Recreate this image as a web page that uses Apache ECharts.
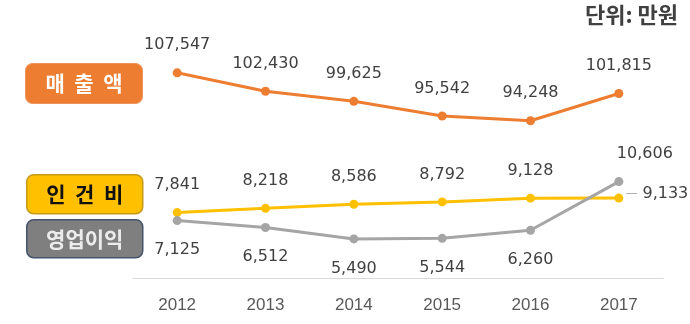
<!DOCTYPE html>
<html><head><meta charset="utf-8">
<script src="https://cdn.jsdelivr.net/npm/echarts@6/dist/echarts.min.js"></script>
<style>html,body{margin:0;padding:0;background:#fff}#c{width:690px;height:324px}</style>
</head><body><div id="c"></div>
<script>
const years = ['2012','2013','2014','2015','2016','2017'];
const sales = [107547, 102430, 99625, 95542, 94248, 101815];
const labor = [7841, 8218, 8586, 8792, 9128, 9133];
const profit = [7125, 6512, 5490, 5544, 6260, 10606];
const seriesNames = ['매출액', '인건비', '영업이익'];
const unitText = '단위: 만원';

const fmt = v => v.toLocaleString('en-US');
const numFont = 'DejaVu Sans';
const labelColor = '#404040';
const last = years.length - 1;
const spaced = s => s.split('').join('  ');

const chart = echarts.init(document.getElementById('c'));
chart.setOption({
  animation: false,
  grid: [
    {left: 133, right: 27, top: 64, height: 72},
    {left: 133, right: 27, top: 166, height: 112}
  ],
  xAxis: [
    {gridIndex: 0, type: 'category', data: years, show: false},
    {gridIndex: 1, type: 'category', data: years,
     axisLine: {lineStyle: {color: '#d9d9d9', width: 1}},
     axisTick: {show: false},
     axisLabel: {fontFamily: 'Liberation Sans', fontSize: 17, color: '#595959', margin: 19}}
  ],
  yAxis: [
    {gridIndex: 0, type: 'value', min: 90000, max: 110000, show: false},
    {gridIndex: 1, type: 'value', min: 2000, max: 12000, show: false}
  ],
  series: [
    {name: seriesNames[0], type: 'line', xAxisIndex: 0, yAxisIndex: 0, data: sales,
     symbol: 'circle', symbolSize: 9, lineStyle: {width: 3, color: '#ED7D31'},
     itemStyle: {color: '#ED7D31'},
     label: {show: true, position: 'top', distance: 15, fontFamily: numFont, fontSize: 16,
             color: labelColor, formatter: p => fmt(p.value)}},
    {name: seriesNames[1], type: 'line', xAxisIndex: 1, yAxisIndex: 1, data: labor,
     symbol: 'circle', symbolSize: 9, lineStyle: {width: 3, color: '#FFC000'},
     itemStyle: {color: '#FFC000'},
     label: {show: true, position: 'top', distance: 15, fontFamily: numFont, fontSize: 16,
             color: labelColor,
             formatter: p => p.dataIndex === last ? '{d|—} ' + fmt(p.value) : fmt(p.value),
             rich: {d: {color: '#a6a6a6', fontSize: 12, fontFamily: numFont}}},
     labelLayout: p => p.dataIndex === last ? {dx: 38, dy: 23} : {}},
    {name: seriesNames[2], type: 'line', xAxisIndex: 1, yAxisIndex: 1,
     data: profit.map((v, i) => i === last ? {value: v, label: {position: 'top', distance: 15, offset: [26, 0]}} : v),
     symbol: 'circle', symbolSize: 9, lineStyle: {width: 3, color: '#A5A5A5'},
     itemStyle: {color: '#A5A5A5'}, z: 3,
     label: {show: true, fontFamily: numFont, fontSize: 16, color: labelColor,
             formatter: p => fmt(p.value),
             position: 'bottom', distance: 17}},
  ],
  graphic: [
    {type: 'text', right: 12, top: 4, style: {text: unitText, fontFamily: 'Noto Sans CJK KR',
      fontSize: 22, fontWeight: 'bold', fill: '#404040'}},
    {type: 'group', left: 25, top: 63, children: [
      {type: 'rect', shape: {x: 0, y: 0, width: 117, height: 40, r: 7},
       style: {fill: '#ED7D31', stroke: '#F0935A', lineWidth: 1}},
      {type: 'text', x: 58.5, y: 20, style: {text: spaced(seriesNames[0]), fontFamily: 'Noto Sans CJK KR',
       fontSize: 21, fontWeight: 'bold', fill: '#fff', align: 'center', verticalAlign: 'middle'}}
    ]},
    {type: 'group', left: 26, top: 174, children: [
      {type: 'rect', shape: {x: 0, y: 0, width: 116, height: 39, r: 7},
       style: {fill: '#FFC000', stroke: '#C49A1A', lineWidth: 1.5}},
      {type: 'text', x: 58, y: 19.5, style: {text: spaced(seriesNames[1]), fontFamily: 'Noto Sans CJK KR',
       fontSize: 21, fontWeight: 'bold', fill: '#111', align: 'center', verticalAlign: 'middle'}}
    ]},
    {type: 'group', left: 26, top: 219, children: [
      {type: 'rect', shape: {x: 0, y: 0, width: 116, height: 38, r: 7},
       style: {fill: '#7F7F7F', stroke: '#44546A', lineWidth: 1.5}},
      {type: 'text', x: 58, y: 19, style: {text: seriesNames[2], fontFamily: 'Noto Sans CJK KR',
       fontSize: 21, fontWeight: 'bold', fill: '#ececec', align: 'center', verticalAlign: 'middle'}}
    ]}
  ]
});
</script></body></html>
